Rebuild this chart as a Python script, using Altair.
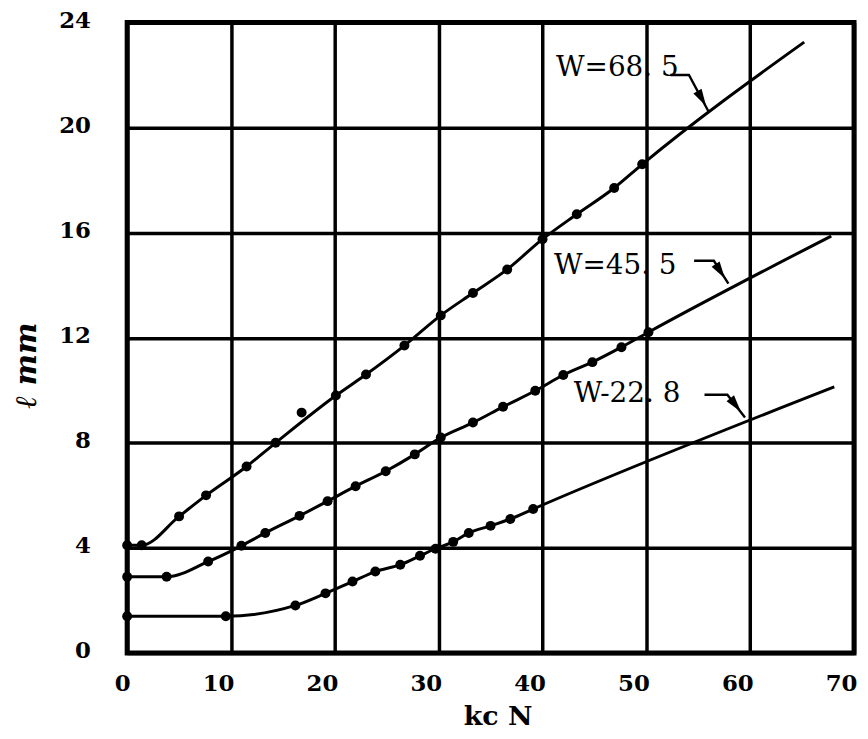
import altair as alt
import pandas as pd

# ---- data ----
x_ticks = [0, 10, 20, 30, 40, 50, 60, 70]
y_ticks = [0, 4, 8, 12, 16, 20, 24]

w685_x = [0, 1.4, 5.0, 7.6, 11.5, 14.3, 16.8, 20.1, 23.0, 26.7, 30.2, 33.3, 36.6, 40.0, 43.3, 46.9, 49.6]
w685_y = [4.1, 4.1, 5.2, 6.0, 7.1, 8.0, 9.15, 9.8, 10.6, 11.7, 12.85, 13.7, 14.6, 15.75, 16.7, 17.7, 18.6]
w685_end = [65.2, 23.25]

w455_x = [0, 3.8, 7.8, 11.0, 13.3, 16.6, 19.3, 22.0, 24.9, 27.7, 30.2, 33.3, 36.2, 39.3, 42.0, 44.8, 47.6, 50.2]
w455_y = [2.9, 2.9, 3.48, 4.08, 4.57, 5.22, 5.78, 6.35, 6.92, 7.56, 8.2, 8.77, 9.37, 9.98, 10.58, 11.07, 11.64, 12.21]
w455_end = [67.8, 15.87]

w228_x = [0, 9.5, 16.2, 19.1, 21.7, 23.9, 26.3, 28.2, 29.7, 31.4, 32.9, 35.0, 36.9, 39.1]
w228_y = [1.4, 1.4, 1.81, 2.27, 2.72, 3.1, 3.36, 3.7, 3.97, 4.23, 4.57, 4.84, 5.1, 5.48]
w228_end = [68.1, 10.13]

# dots that sit off the drawn curve (series, index)
off_curve = [("W=68.5", 6)]

ann_text = ["W=68. 5", "W=45. 5", "W-22. 8"]
ann_x = [41.3, 41.1, 43.0]
ann_y = [22.26, 14.74, 9.86]

# leader polylines: start, kink, end (data units)
lead_x = [[52.3, 54.1, 56.0], [54.6, 56.5, 57.9], [55.6, 57.8, 59.5]]
lead_y = [[22.0, 22.0, 20.6], [14.93, 14.93, 14.06], [9.83, 9.83, 8.96]]
arrow_x = [55.75, 57.57, 59.1]
arrow_y = [20.82, 14.25, 9.18]
arrow_angle = [330, 327, 322]

# ---- build tables ----
dots_rows, line_rows = [], []
for name, xs_, ys_, end in [("W=68.5", w685_x, w685_y, w685_end),
                            ("W=45.5", w455_x, w455_y, w455_end),
                            ("W=22.8", w228_x, w228_y, w228_end)]:
    k = 0
    for i, (xv, yv) in enumerate(zip(xs_, ys_)):
        dots_rows.append({"s": name, "x": xv, "y": yv})
        if (name, i) not in off_curve:
            line_rows.append({"s": name, "x": xv, "y": yv, "o": k})
            k += 1
    line_rows.append({"s": name, "x": end[0], "y": end[1], "o": k})

dots = pd.DataFrame(dots_rows)
lines = pd.DataFrame(line_rows)
ann = pd.DataFrame({"t": ann_text, "x": ann_x, "y": ann_y})
lead = pd.DataFrame([{"g": g, "o": j, "x": lead_x[g][j], "y": lead_y[g][j]}
                     for g in range(3) for j in range(3)])
arrows = pd.DataFrame({"x": arrow_x, "y": arrow_y, "a": arrow_angle})

FONT = "DejaVu Serif"

xs = alt.Scale(domain=[0, 70], nice=False, zero=False)
ys = alt.Scale(domain=[0, 24], nice=False, zero=False)

x_axis = alt.Axis(values=x_ticks, grid=True, gridColor="black", gridWidth=3.5, gridOpacity=1,
                  ticks=False, tickSize=0, domain=False, labelFont=FONT, labelFontSize=23,
                  labelFontWeight="bold",
                  labelColor="black", labelAlign="right", labelOffset=3, labelPadding=20,
                  labelBaseline="top", labelFlush=False,
                  title="kc N", titleFont=FONT, titleFontSize=27, titleFontWeight="bold",
                  titleColor="black", titleX=373, titleY=72, titleBaseline="alphabetic",
                  titleAlign="center")
y_axis = alt.Axis(values=y_ticks, grid=True, gridColor="black", gridWidth=3.5, gridOpacity=1,
                  ticks=False, tickSize=0, domain=False, labelFont=FONT, labelFontSize=23,
                  labelFontWeight="bold",
                  labelColor="black", labelPadding=37, labelOffset=-2, labelFlush=False,
                  title="ℓ mm", titleFont=FONT, titleFontSize=30, titleFontWeight="bold",
                  titleFontStyle="italic", titleColor="black", titleX=-101, titleY=345,
                  titleAngle=270, titleAlign="center", titleBaseline="middle")

base_line = alt.Chart(lines).mark_line(color="black", strokeWidth=3, interpolate="monotone").encode(
    x=alt.X("x:Q", scale=xs, axis=x_axis),
    y=alt.Y("y:Q", scale=ys, axis=y_axis),
    detail="s:N",
    order="o:Q",
)

pts = alt.Chart(dots).mark_point(filled=True, color="black", opacity=1, size=100, shape="circle").encode(
    x="x:Q", y="y:Q"
)

labels = alt.Chart(ann).mark_text(font=FONT, fontSize=28, align="left", baseline="middle",
                                  color="black").encode(x="x:Q", y="y:Q", text="t:N")

leaders = alt.Chart(lead).mark_line(color="black", strokeWidth=2.4).encode(
    x="x:Q", y="y:Q", detail="g:N", order="o:Q"
)

heads = alt.Chart(arrows).mark_point(shape="M0,0 L-0.55,-2 L0.55,-2 Z", filled=True, color="black",
                                     opacity=1, size=300).encode(
    x="x:Q", y="y:Q", angle=alt.Angle("a:Q", scale=None)
)

chart = alt.layer(base_line, pts, leaders, heads, labels).properties(
    width=732, height=635,
    autosize=alt.AutoSizeParams(type="none"),
    padding={"left": 120, "top": 12, "right": 6, "bottom": 76},
).configure_view(stroke="black", strokeWidth=5)

chart.save("out.html", embed_options={"renderer": "svg", "actions": False})
